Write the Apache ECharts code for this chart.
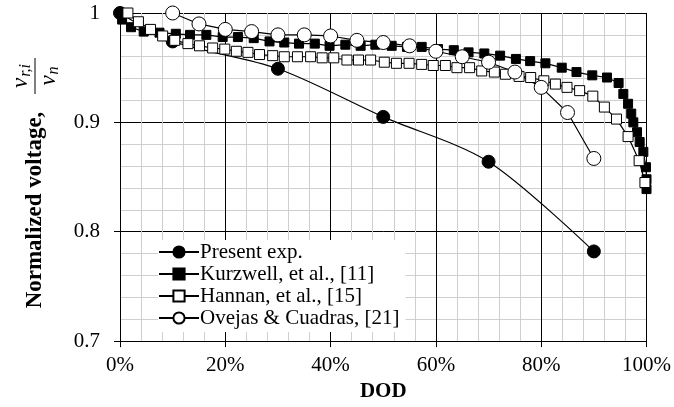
<!DOCTYPE html>
<html>
<head>
<meta charset="utf-8">
<script src="https://cdn.jsdelivr.net/npm/echarts@6/dist/echarts.min.js"></script>
<style>html,body{margin:0;padding:0;background:#fff}#c{width:674px;height:407px}</style>
</head>
<body>
<div id="c"></div>
<script>
// ---- data ----
const seriesNames = ['Present exp.', 'Kurzwell, et al., [11]', 'Hannan, et al., [15]', 'Ovejas & Cuadras, [21]'];
const xTicks = [0, 20, 40, 60, 80, 100];
const yTicks = [0.7, 0.8, 0.9, 1.0];

const presentDod = [0, 10, 30, 50, 70, 90];
const presentV   = [1.0, 0.974, 0.949, 0.905, 0.864, 0.782];

const kurzDod = [0.4, 2.1, 4.5, 7.5, 10.6, 13.3, 16.4, 19.5, 22.4, 25.4, 28.4, 31.2, 34.0, 37.0, 39.8, 42.8, 45.7, 48.5, 51.6, 54.5, 57.3, 60.4, 63.4, 66.2, 69.2, 72.2, 75.2, 77.9, 80.8, 83.9, 86.7, 89.7, 92.5, 94.7, 95.6, 96.5, 97.1, 97.5, 98.2, 98.7, 99.4, 99.9, 100, 100];
const kurzV   = [0.994, 0.987, 0.983, 0.982, 0.981, 0.980, 0.980, 0.978, 0.978, 0.977, 0.974, 0.973, 0.972, 0.972, 0.970, 0.971, 0.970, 0.971, 0.970, 0.969, 0.969, 0.967, 0.966, 0.964, 0.963, 0.961, 0.958, 0.956, 0.954, 0.950, 0.946, 0.943, 0.941, 0.936, 0.926, 0.917, 0.908, 0.900, 0.891, 0.882, 0.873, 0.859, 0.848, 0.839];

const hannDod = [1.5, 3.5, 5.8, 8.1, 10.4, 12.9, 15.1, 17.6, 19.9, 22.1, 24.3, 26.5, 29.0, 31.2, 33.7, 36.2, 38.4, 40.6, 43.1, 45.3, 47.6, 50.2, 52.5, 54.9, 57.3, 59.5, 61.8, 64.0, 66.4, 68.7, 71.1, 73.2, 75.8, 78.0, 80.5, 82.7, 84.9, 87.3, 89.8, 92.0, 94.3, 96.5, 98.6, 99.7];
const hannV   = [1.0, 0.992, 0.985, 0.979, 0.975, 0.972, 0.970, 0.968, 0.967, 0.965, 0.964, 0.962, 0.961, 0.960, 0.960, 0.960, 0.959, 0.959, 0.957, 0.957, 0.957, 0.955, 0.954, 0.954, 0.953, 0.952, 0.952, 0.950, 0.950, 0.947, 0.946, 0.944, 0.942, 0.941, 0.938, 0.935, 0.932, 0.929, 0.924, 0.914, 0.903, 0.887, 0.865, 0.845];

const oveDod = [10, 15, 20, 25, 30, 35, 40, 45, 50, 55, 60, 65, 70, 75, 80, 85, 90];
const oveV   = [1.0, 0.990, 0.985, 0.983, 0.980, 0.980, 0.979, 0.975, 0.973, 0.970, 0.965, 0.960, 0.955, 0.946, 0.932, 0.909, 0.867];

// ---- chart ----
const FONT = 'Liberation Serif';
const pairs = (xs, ys) => xs.map((x, i) => [x, ys[i]]);
const chart = echarts.init(document.getElementById('c'), null, { renderer: 'canvas' });

const lineBase = { type: 'line', showSymbol: true, showAllSymbol: true, lineStyle: { color: '#000', width: 1.2 }, emphasis: { disabled: true } };
const fracRich = {
  v: { fontFamily: FONT, fontStyle: 'italic', fontSize: 23, fill: '#000' },
  s: { fontFamily: FONT, fontStyle: 'italic', fontSize: 16, fill: '#000', padding: [9, 0, 0, 1] }
};

chart.setOption({
  animation: false,
  backgroundColor: '#fff',
  grid: { left: 120, right: 24, top: 13, bottom: 65, containLabel: false },
  xAxis: {
    type: 'value', min: xTicks[0], max: xTicks[xTicks.length - 1], interval: 20,
    name: 'DOD', nameLocation: 'middle', nameGap: 36,
    nameTextStyle: { fontFamily: FONT, fontWeight: 'bold', fontSize: 21, color: '#000' },
    axisLine: { show: true, lineStyle: { color: '#000', width: 1 } },
    axisTick: { show: true, length: 6, lineStyle: { color: '#000' } },
    axisLabel: { formatter: '{value}%', fontFamily: FONT, fontSize: 21, color: '#000', margin: 14 },
    splitLine: { show: true, lineStyle: { color: '#000', width: 1 } },
    minorTick: { show: false, splitNumber: 5 },
    minorSplitLine: { show: true, lineStyle: { color: '#cfcfcf', width: 1 } }
  },
  yAxis: {
    type: 'value', min: yTicks[0], max: yTicks[yTicks.length - 1], interval: 0.1,
    axisLine: { show: true, lineStyle: { color: '#000', width: 1 } },
    axisTick: { show: true, length: 6, lineStyle: { color: '#000' } },
    axisLabel: { fontFamily: FONT, fontSize: 21, color: '#000', margin: 20,
      formatter: v => (Math.abs(v - 1) < 1e-9 ? '1' : v.toFixed(1)) },
    splitLine: { show: true, lineStyle: { color: '#000', width: 1 } },
    minorTick: { show: false, splitNumber: 5 },
    minorSplitLine: { show: true, lineStyle: { color: '#cfcfcf', width: 1 } }
  },
  legend: {
    orient: 'vertical', left: 158, top: 240,
    itemWidth: 40, itemHeight: 14, itemGap: 0,
    backgroundColor: '#fff', padding: [1, 6, 3, 0],
    textStyle: { fontFamily: FONT, fontSize: 21, color: '#000', lineHeight: 22, padding: [0, 0, 0, -4] },
    data: seriesNames
  },
  graphic: [{
    type: 'group', x: 35, y: 210, rotation: Math.PI / 2,
    children: [
      { type: 'text', x: 0, y: 0, style: { text: 'Normalized voltage,', fontFamily: FONT, fontWeight: 'bold', fontSize: 23, fill: '#000', align: 'center', verticalAlign: 'middle' } },
      { type: 'text', x: 134, y: -14, style: { text: '{v|v}{s|r,i}', align: 'center', verticalAlign: 'middle', rich: fracRich } },
      { type: 'line', shape: { x1: 116, y1: 0, x2: 152, y2: 0 }, style: { stroke: '#000', lineWidth: 1 } },
      { type: 'text', x: 134, y: 14, style: { text: '{v|v}{s|n}', align: 'center', verticalAlign: 'middle', rich: fracRich } }
    ]
  }],
  series: [
    Object.assign({}, lineBase, { name: seriesNames[0], data: pairs(presentDod, presentV), smooth: 0.3, symbol: 'circle', symbolSize: 13,
      itemStyle: { color: '#000', borderColor: '#000', borderWidth: 1 } }),
    Object.assign({}, lineBase, { name: seriesNames[1], data: pairs(kurzDod, kurzV), symbol: 'rect', symbolSize: 9,
      itemStyle: { color: '#000', borderColor: '#000', borderWidth: 1 } }),
    Object.assign({}, lineBase, { name: seriesNames[2], data: pairs(hannDod, hannV), symbol: 'rect', symbolSize: 10,
      itemStyle: { color: '#fff', borderColor: '#000', borderWidth: 1 } }),
    Object.assign({}, lineBase, { name: seriesNames[3], data: pairs(oveDod, oveV), symbol: 'circle', symbolSize: 14,
      itemStyle: { color: '#fff', borderColor: '#000', borderWidth: 1 } })
  ]
});
</script>
</body>
</html>
